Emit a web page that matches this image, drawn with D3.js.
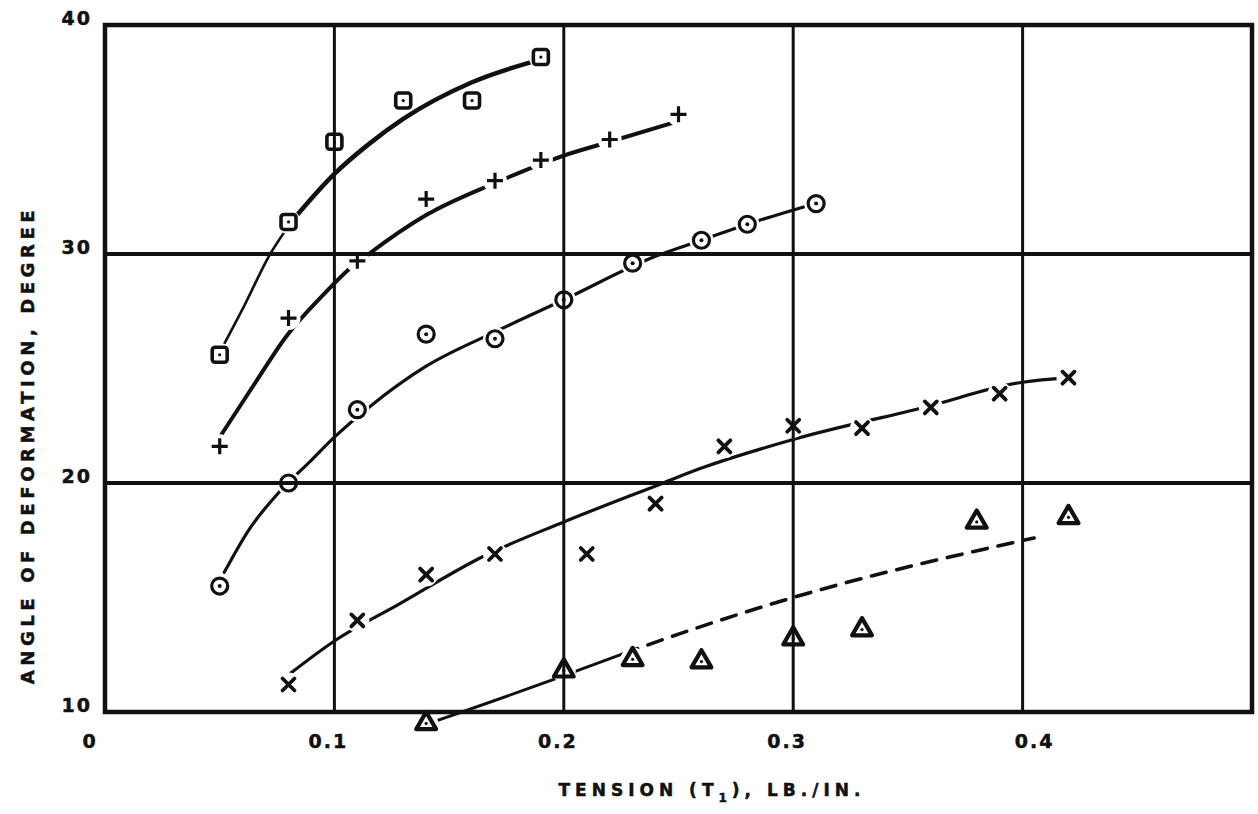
<!DOCTYPE html>
<html>
<head>
<meta charset="utf-8">
<script src="https://cdn.jsdelivr.net/npm/d3@7"></script>
<style>
    body { margin: 0; background: #fff; }
    text { font-family: "DejaVu Sans", sans-serif; font-weight: bold; fill: #111; stroke: #111; stroke-width: 0.5; }
</style>
</head>
<body>
<div id="chart"></div>
<script>
// ticks
const xTicks = [0, 0.1, 0.2, 0.3, 0.4];
const yTicks = [10, 20, 30, 40];

// measured points, [tension, angle]
const squarePts = [[0.05, 25.6], [0.08, 31.4], [0.10, 34.9], [0.13, 36.7], [0.16, 36.7], [0.19, 38.6]];
const plusPts = [[0.05, 21.6], [0.08, 27.2], [0.11, 29.7], [0.14, 32.4], [0.17, 33.2], [0.19, 34.1], [0.22, 35.0], [0.25, 36.1]];
const circlePts = [[0.05, 15.5], [0.08, 20.0], [0.11, 23.2], [0.14, 26.5], [0.17, 26.3], [0.20, 28.0], [0.23, 29.6], [0.26, 30.6], [0.28, 31.3], [0.31, 32.2]];
const crossPts = [[0.08, 11.2], [0.11, 14.0], [0.14, 16.0], [0.17, 16.9], [0.21, 16.9], [0.24, 19.1], [0.27, 21.6], [0.30, 22.5], [0.33, 22.4], [0.36, 23.3], [0.39, 23.9], [0.42, 24.6]];
const trianglePts = [[0.14, 9.5], [0.20, 11.8], [0.23, 12.3], [0.26, 12.2], [0.30, 13.2], [0.33, 13.6], [0.38, 18.3], [0.42, 18.5]];

// hand drawn fitted curves
const squareFitLow = [[0.05, 25.7], [0.06, 27.6], [0.072, 30.0], [0.082, 31.5]];
const squareFitHigh = [[0.082, 31.5], [0.10, 33.5], [0.115, 34.8], [0.13, 35.9], [0.16, 37.5], [0.19, 38.5]];
const plusFit = [[0.05, 22.0], [0.065, 24.3], [0.079, 26.4], [0.095, 28.2], [0.106, 29.3], [0.115, 30.0], [0.14, 31.7], [0.17, 33.1], [0.20, 34.3], [0.22, 34.9], [0.25, 35.8]];
const circleFit = [[0.052, 16.1], [0.063, 18.0], [0.075, 19.5], [0.09, 21.0], [0.10, 22.0], [0.115, 23.3], [0.14, 25.1], [0.17, 26.6], [0.20, 28.0], [0.24, 29.9], [0.26, 30.6], [0.28, 31.3], [0.306, 32.1]];
const crossFit = [[0.081, 11.7], [0.10, 13.1], [0.128, 14.7], [0.165, 16.8], [0.20, 18.3], [0.242, 19.95], [0.26, 20.65], [0.30, 21.9], [0.357, 23.3], [0.40, 24.4], [0.42, 24.6]];
const triangleFit = [[0.144, 9.6], [0.195, 11.4], [0.226, 12.55]];
const triangleDash = [[0.226, 12.55], [0.25, 13.4], [0.30, 15.0], [0.405, 17.6]];

const width = 1258, height = 814;

const svg = d3.select("#chart").append("svg")
    .attr("width", width)
    .attr("height", height);

const x = d3.scaleLinear().domain([0, 0.5]).range([105, 1252]);
const y = d3.scaleLinear().domain([10, 40]).range([712, 25]);

// grid
const grid = svg.append("g").attr("stroke", "#111").attr("fill", "none");
grid.selectAll("line.v")
    .data(xTicks.filter(d => d > 0))
    .join("line")
    .attr("class", "v")
    .attr("x1", d => x(d)).attr("x2", d => x(d))
    .attr("y1", y(40)).attr("y2", y(10))
    .attr("stroke-width", 3);
grid.selectAll("line.h")
    .data(yTicks.filter(d => d > 10 && d < 40))
    .join("line")
    .attr("class", "h")
    .attr("x1", x(0)).attr("x2", x(0.5))
    .attr("y1", d => y(d)).attr("y2", d => y(d))
    .attr("stroke-width", 4);
grid.append("rect")
    .attr("x", x(0)).attr("y", y(40))
    .attr("width", x(0.5) - x(0)).attr("height", y(10) - y(40))
    .attr("stroke-width", 4.5);

// tick labels
svg.append("g").selectAll("text")
    .data(yTicks)
    .join("text")
    .attr("x", x(0) - 13)
    .attr("y", d => y(d) - 7)
    .attr("dy", "0.35em")
    .attr("text-anchor", "end")
    .attr("font-size", 19)
    .attr("letter-spacing", 2)
    .text(d => d);

svg.append("g").selectAll("text")
    .data(xTicks)
    .join("text")
    .attr("x", d => x(d) - 6 + (d === 0 ? -9 : 0) + (d === 0.4 ? 18 : 0))
    .attr("y", 748)
    .attr("text-anchor", "middle")
    .attr("font-size", 19)
    .attr("letter-spacing", 2)
    .text(d => d === 0 ? "0" : d3.format(".1f")(d));

// axis titles
const xt = svg.append("text")
    .attr("x", 712).attr("y", 796)
    .attr("text-anchor", "middle")
    .attr("font-size", 17)
    .attr("letter-spacing", 5);
xt.append("tspan").text("TENSION (T");
xt.append("tspan").attr("font-size", 12).attr("dy", 6).text("1");
xt.append("tspan").attr("dy", -6).text("), LB./IN.");

svg.append("text")
    .attr("transform", "translate(28,445) rotate(-90)")
    .attr("text-anchor", "middle")
    .attr("dy", "0.35em")
    .attr("font-size", 18)
    .attr("letter-spacing", 4.6)
    .text("ANGLE OF DEFORMATION, DEGREE");

// mask so curves break around the markers
const allPts = [].concat(squarePts, plusPts, circlePts, crossPts, trianglePts);
const mask = svg.append("defs").append("mask").attr("id", "gaps")
    .attr("maskUnits", "userSpaceOnUse")
    .attr("x", 0).attr("y", 0).attr("width", width).attr("height", height);
mask.append("rect").attr("width", width).attr("height", height).attr("fill", "#fff");
mask.selectAll("circle")
    .data(allPts)
    .join("circle")
    .attr("cx", d => x(d[0])).attr("cy", d => y(d[1]))
    .attr("r", 12)
    .attr("fill", "#000");

const line = d3.line()
    .x(d => x(d[0]))
    .y(d => y(d[1]))
    .curve(d3.curveMonotoneX);

const curves = [
    {pts: squareFitLow, w: 2.6},
    {pts: squareFitHigh, w: 4.6},
    {pts: plusFit, w: 4},
    {pts: circleFit, w: 3.2},
    {pts: crossFit, w: 3.2},
    {pts: triangleFit, w: 3},
    {pts: triangleDash, w: 3.6, dash: "15,11"}
];

svg.append("g")
    .attr("mask", "url(#gaps)")
    .selectAll("path")
    .data(curves)
    .join("path")
    .attr("d", d => line(d.pts))
    .attr("fill", "none")
    .attr("stroke", "#111")
    .attr("stroke-width", d => d.w)
    .attr("stroke-linecap", "round")
    .attr("stroke-dasharray", d => d.dash || null);

// markers
const mk = svg.append("g").attr("fill", "none").attr("stroke", "#111").attr("stroke-linejoin", "round");

const dot = (pts, r) => {
    mk.append("g").selectAll("circle")
        .data(pts)
        .join("circle")
        .attr("cx", d => x(d[0])).attr("cy", d => y(d[1]))
        .attr("r", r)
        .attr("fill", "#111")
        .attr("stroke", "none");
};

mk.append("g").selectAll("rect")
    .data(squarePts)
    .join("rect")
    .attr("x", d => x(d[0]) - 7.5).attr("y", d => y(d[1]) - 7.5)
    .attr("width", 15).attr("height", 15)
    .attr("rx", 3)
    .attr("stroke-width", 3.6);
dot(squarePts, 1.6);

mk.append("g").selectAll("circle")
    .data(circlePts)
    .join("circle")
    .attr("cx", d => x(d[0])).attr("cy", d => y(d[1]))
    .attr("r", 8)
    .attr("stroke-width", 3.2);
dot(circlePts, 2);

const tri = d3.symbol().type(d3.symbolTriangle).size(170);
mk.append("g").selectAll("path")
    .data(trianglePts)
    .join("path")
    .attr("transform", d => `translate(${x(d[0])},${y(d[1])})`)
    .attr("d", tri)
    .attr("stroke-width", 4.2);
dot(trianglePts, 1.6);

mk.append("g").selectAll("path")
    .data(plusPts)
    .join("path")
    .attr("transform", d => `translate(${x(d[0])},${y(d[1])})`)
    .attr("d", "M-8,0H8M0,-8V8")
    .attr("stroke-width", 3.2);

mk.append("g").selectAll("path")
    .data(crossPts)
    .join("path")
    .attr("transform", d => `translate(${x(d[0])},${y(d[1])})`)
    .attr("d", "M-6,-6L6,6M-6,6L6,-6")
    .attr("stroke-width", 3.8)
    .attr("stroke-linecap", "round");
</script>
</body>
</html>
